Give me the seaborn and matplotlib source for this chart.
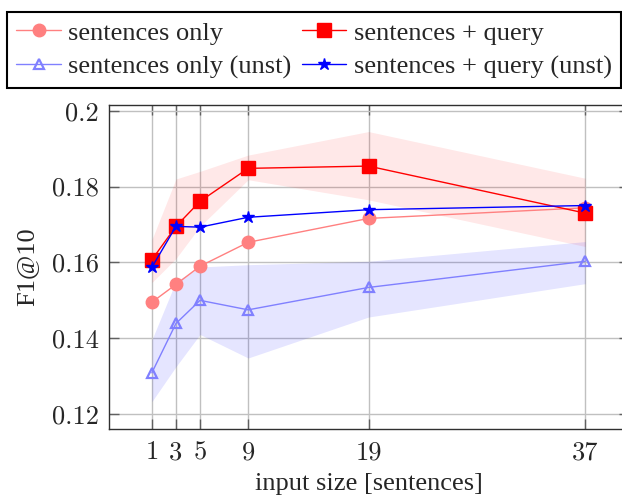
import numpy as np
import pandas as pd
import matplotlib
matplotlib.use("Agg")
import matplotlib.pyplot as plt
import seaborn as sns

# ---- data ----
x = [1, 3, 5, 9, 19, 37]
sent_only = [0.1495, 0.1542, 0.1590, 0.1653, 0.1716, 0.1744]
sent_query = [0.1607, 0.1695, 0.1761, 0.1848, 0.1854, 0.1730]
sent_only_unst = [0.1309, 0.1439, 0.1500, 0.1475, 0.1534, 0.1603]
sent_query_unst = [0.1587, 0.1695, 0.1693, 0.1719, 0.1739, 0.1750]
sq_lo = [0.1547, 0.1610, 0.1695, 0.1818, 0.1765, 0.1642]
sq_hi = [0.1660, 0.1820, 0.1840, 0.1883, 0.1945, 0.1822]
sou_lo = [0.1233, 0.1325, 0.1410, 0.1348, 0.1456, 0.1544]
sou_hi = [0.1396, 0.1550, 0.1588, 0.1594, 0.1603, 0.1655]
yticks = [0.12, 0.14, 0.16, 0.18, 0.20]
ytick_labels = ["0.12", "0.14", "0.16", "0.18", "0.2"]
labels = ["sentences only", "sentences + query",
          "sentences only (unst)", "sentences + query (unst)"]

sns.set_theme(style="white")
plt.rcParams["font.family"] = ["Liberation Serif", "DejaVu Serif"]

fig = plt.figure(figsize=(6.22, 4.97), dpi=100)
ax = fig.add_axes([0.1745, 0.1362, 0.836, 0.6525])

# bands
ax.fill_between(x, sq_lo, sq_hi, color="#ff0000", alpha=0.09, linewidth=0)
ax.fill_between(x, sou_lo, sou_hi, color="#0000ff", alpha=0.10, linewidth=0)

specs = [
    (sent_only, labels[0], "#ff8080", "o", 9, "#ff8080", 1.0),
    (sent_query, labels[1], "#ff0000", "s", 10, "#ff0000", 1.0),
    (sent_only_unst, labels[2], "#8080ff", "^", 7, "none", 1.6),
    (sent_query_unst, labels[3], "#0000ff", "*", 9, "#0000ff", 1.0),
]
handles = []
for vals, lab, col, mk, ms, mfc, mew in specs:
    d = pd.DataFrame({"x": x, "y": vals})
    sns.lineplot(data=d, x="x", y="y", ax=ax, color=col, marker=mk,
                 markersize=ms, markerfacecolor=mfc, markeredgecolor=col,
                 markeredgewidth=mew, linewidth=1.0, label=lab, legend=False)
    handles.append(ax.lines[-1])

ax.set_xlim(-2.6, 40.6)
ax.set_ylim(0.1160, 0.2015)
ax.set_xticks(x)
ax.set_xticklabels([str(v) for v in x], fontfamily="cmr10", fontsize=19)
ax.set_yticks(yticks)
ax.set_yticklabels(ytick_labels, fontfamily="cmr10", fontsize=19)
ax.grid(True, color="#c0c0c0", linewidth=1.0)
ax.set_axisbelow(True)
ax.tick_params(axis="both", direction="in", length=7, width=1.0, color="#606060",
               top=True, right=True, bottom=True, left=True)
ax.tick_params(axis="x", pad=8)
ax.tick_params(axis="y", pad=7)
for s in ax.spines.values():
    s.set_color("#303030")
    s.set_linewidth(1.0)
    s.set_visible(True)

ax.set_xlabel("input size [sentences]", fontsize=19, labelpad=6.5)
ax.set_ylabel("F1@10", fontsize=19, labelpad=10)

order = [handles[0], handles[2], handles[1], handles[3]]
order_labels = [labels[0], labels[2], labels[1], labels[3]]
leg = fig.legend(order, order_labels, loc="upper left", ncol=2,
                 bbox_to_anchor=(0.0113, 0.9759), fontsize=19, frameon=True,
                 fancybox=False, edgecolor="black", framealpha=1,
                 handlelength=1.7, handletextpad=0.27, columnspacing=0.38,
                 labelspacing=0.38, borderpad=0.35, borderaxespad=0)
leg.get_frame().set_linewidth(1.5)

fig.savefig("out.png", dpi=100)
